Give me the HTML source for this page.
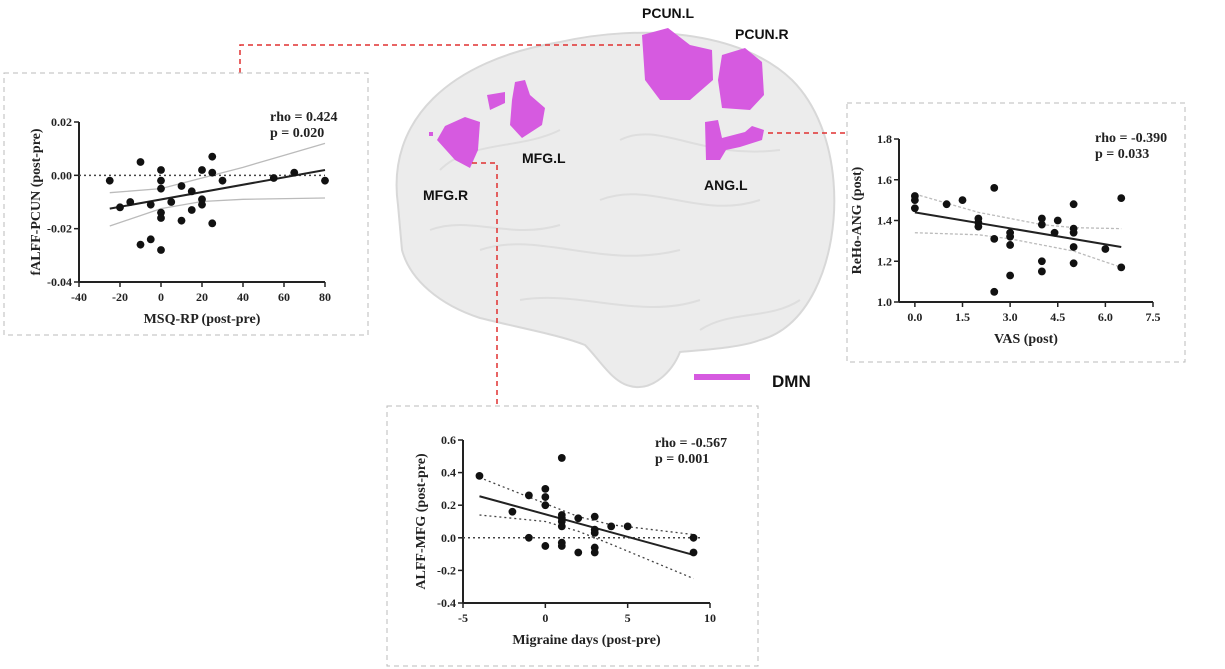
<!DOCTYPE html>
<html><head><meta charset="utf-8"><style>
html,body{margin:0;padding:0;background:#fff;}
svg{display:block;}
.t{font-family:"Liberation Serif",serif;font-weight:bold;font-size:12px;fill:#222;}
.a{font-family:"Liberation Serif",serif;font-weight:bold;font-size:14px;fill:#222;}
.l{font-family:"Liberation Sans",sans-serif;font-weight:bold;font-size:14px;fill:#111;}
</style></head><body>
<svg id="s" width="1225" height="669" viewBox="0 0 1225 669" xmlns="http://www.w3.org/2000/svg">
<!-- brain -->
<path d="M398,205 C386,120 450,60 560,42 C640,24 740,30 792,80 C842,130 845,230 815,290 C800,320 780,335 760,340 C740,348 700,350 680,352 C672,372 652,392 630,386 C612,382 600,360 585,345 C560,335 520,328 480,318 C440,305 410,280 402,250 Z" fill="#ececec" stroke="#d8d8d8" stroke-width="2"/>
<path d="M440,170 C470,140 520,150 560,130 M600,200 C650,180 700,220 760,200 M480,250 C540,230 600,270 680,250 M520,300 C580,290 640,320 700,300 M430,230 C470,215 510,240 560,225 M620,140 C660,120 700,160 780,150 M700,330 C730,310 770,320 800,300" stroke="#dedede" fill="none" stroke-width="2"/>
<g fill="#d65ae0">
<path d="M642,35 L668,28 L690,45 L712,50 L713,80 L690,100 L660,100 L645,80 Z"/>
<path d="M722,55 L745,48 L762,62 L764,95 L750,110 L722,108 L718,80 Z"/>
<path d="M705,122 L718,120 L722,138 L745,132 L752,126 L764,130 L762,140 L740,147 L726,150 L720,160 L706,160 Z"/>
<path d="M487,95 L505,92 L505,103 L490,110 Z"/>
<path d="M515,82 L525,80 L530,95 L545,108 L542,125 L522,138 L510,125 L512,100 Z"/>
<path d="M445,126 L465,117 L480,122 L478,150 L470,168 L455,160 L437,140 Z"/>
<rect x="429" y="132" width="4" height="4"/>
</g>
<text class="l" x="642" y="18">PCUN.L</text>
<text class="l" x="735" y="39">PCUN.R</text>
<text class="l" x="522" y="163">MFG.L</text>
<text class="l" x="423" y="200">MFG.R</text>
<text class="l" x="704" y="190">ANG.L</text>
<rect x="694" y="374" width="56" height="6" fill="#d65ae0"/>
<text x="772" y="387" style="font-family:'Liberation Sans',sans-serif;font-weight:bold;font-size:17px;fill:#111">DMN</text>
<g stroke="#e03030" stroke-width="1.5" stroke-dasharray="5,4" fill="none">
<path d="M240,73 L240,45 L640,45"/>
<path d="M472,163 L497,163 L497,405"/>
<path d="M768,133 L847,133"/>
</g>
<g stroke="#bbb" stroke-width="1" stroke-dasharray="5,4" fill="none">
<rect x="4" y="73" width="364" height="262"/>
<rect x="847" y="103" width="338" height="259"/>
<rect x="387" y="406" width="371" height="260"/>
</g>
<g id="plots"></g>
</svg>
<script>
var NS="http://www.w3.org/2000/svg",G=document.getElementById("plots");
function el(t,a,txt){var e=document.createElementNS(NS,t);for(var k in a)e.setAttribute(k,a[k]);if(txt!==undefined)e.textContent=txt;G.appendChild(e);return e;}
function plot(o){
 var X=function(v){return o.x0+(v-o.xmin)/(o.xmax-o.xmin)*(o.x1-o.x0)},Y=function(v){return o.y1+(v-o.ymin)/(o.ymax-o.ymin)*(o.y0-o.y1)};
 el("line",{x1:o.x0,y1:o.y0,x2:o.x0,y2:o.y1,stroke:"#222","stroke-width":2});
 el("line",{x1:o.x0,y1:o.y1,x2:o.x1,y2:o.y1,stroke:"#222","stroke-width":2});
 o.yt.forEach(function(v){var y=Y(v);el("line",{x1:o.x0-5,y1:y,x2:o.x0,y2:y,stroke:"#222","stroke-width":1.5});el("text",{x:o.x0-7,y:y+4,"text-anchor":"end",class:"t"},o.yf(v));});
 o.xt.forEach(function(v){var x=X(v);el("line",{x1:x,y1:o.y1,x2:x,y2:o.y1+5,stroke:"#222","stroke-width":1.5});el("text",{x:x,y:o.y1+19,"text-anchor":"middle",class:"t"},o.xf(v));});
 if(o.zero)el("line",{x1:o.x0,y1:Y(0),x2:X(o.zero),y2:Y(0),stroke:"#444","stroke-width":1.5,"stroke-dasharray":"2,3"});
 o.ci.forEach(function(c){var d="M"+c.map(function(p){return X(p[0])+","+Y(p[1])}).join(" L");el("path",{d:d,fill:"none",stroke:o.cic,"stroke-width":1.3,"stroke-dasharray":o.cid});});
 el("line",{x1:X(o.fit[0][0]),y1:Y(o.fit[0][1]),x2:X(o.fit[1][0]),y2:Y(o.fit[1][1]),stroke:"#222","stroke-width":2});
 o.pts.forEach(function(p){el("circle",{cx:X(p[0]),cy:Y(p[1]),r:3.9,fill:"#111"});});
 el("text",{x:o.rx,y:o.ry,class:"a"},o.rho);el("text",{x:o.rx,y:o.ry+16,class:"a"},o.p);
 el("text",{x:(o.x0+o.x1)/2,y:o.y1+41,"text-anchor":"middle",class:"a"},o.xl);
 var yc=(o.y0+o.y1)/2;el("text",{x:o.ylx,y:yc,"text-anchor":"middle",class:"a",transform:"rotate(-90 "+o.ylx+" "+yc+")"},o.yl);
}
plot({x0:79,x1:325,y0:122,y1:282,xmin:-40,xmax:80,ymin:-0.04,ymax:0.02,
 yt:[0.02,0,-0.02,-0.04],yf:function(v){return v.toFixed(2)},xt:[-40,-20,0,20,40,60,80],xf:String,zero:80,
 ci:[[[-25,-0.0065],[0,-0.005],[20,-0.001],[40,0.003],[60,0.0075],[80,0.012]],[[-25,-0.019],[0,-0.0125],[20,-0.0098],[40,-0.009],[80,-0.0085]]],cic:"#bbb",cid:"",
 fit:[[-25,-0.0125],[80,0.002]],
 pts:[[-25,-0.002],[-20,-0.012],[-15,-0.010],[-10,0.005],[-10,-0.026],[-5,-0.011],[-5,-0.024],[0,0.002],[0,-0.002],[0,-0.005],[0,-0.014],[0,-0.016],[0,-0.028],[5,-0.010],[10,-0.004],[10,-0.017],[15,-0.006],[15,-0.013],[20,0.002],[20,-0.009],[20,-0.011],[25,0.007],[25,0.001],[25,-0.018],[30,-0.002],[55,-0.001],[65,0.001],[80,-0.002]],
 rx:270,ry:121,rho:"rho = 0.424",p:"p = 0.020",xl:"MSQ-RP (post-pre)",yl:"fALFF-PCUN (post-pre)",ylx:40});
plot({x0:899,x1:1153,y0:139,y1:302,xmin:-0.5,xmax:7.5,ymin:1.0,ymax:1.8,
 yt:[1.8,1.6,1.4,1.2,1.0],yf:function(v){return v.toFixed(1)},xt:[0,1.5,3,4.5,6,7.5],xf:function(v){return v.toFixed(1)},zero:0,
 ci:[[[0,1.53],[2,1.44],[4,1.38],[5,1.365],[6.5,1.36]],[[0,1.34],[2,1.33],[3,1.31],[5,1.25],[6.5,1.17]]],cic:"#bbb",cid:"3,2",
 fit:[[0,1.44],[6.5,1.27]],
 pts:[[0,1.52],[0,1.50],[0,1.46],[1,1.48],[1.5,1.50],[2,1.41],[2,1.39],[2,1.37],[2.5,1.56],[2.5,1.31],[2.5,1.05],[3,1.34],[3,1.32],[3,1.28],[3,1.13],[4,1.41],[4,1.38],[4,1.20],[4,1.15],[4.4,1.34],[4.5,1.40],[5,1.48],[5,1.36],[5,1.34],[5,1.27],[5,1.19],[6,1.26],[6.5,1.51],[6.5,1.17]],
 rx:1095,ry:142,rho:"rho = -0.390",p:"p = 0.033",xl:"VAS (post)",yl:"ReHo-ANG (post)",ylx:861});
plot({x0:463,x1:710,y0:440,y1:603,xmin:-5,xmax:10,ymin:-0.4,ymax:0.6,
 yt:[0.6,0.4,0.2,0,-0.2,-0.4],yf:function(v){return v.toFixed(1)},xt:[-5,0,5,10],xf:String,zero:9.5,
 ci:[[[-4,0.37],[0,0.21],[2,0.13],[4,0.08],[9,0.02]],[[-4,0.14],[0,0.10],[2,0.04],[4,-0.04],[9,-0.25]]],cic:"#444",cid:"2,3",
 fit:[[-4,0.255],[9,-0.105]],
 pts:[[-4,0.38],[-2,0.16],[-1,0.26],[-1,0.0],[0,0.30],[0,0.25],[0,0.20],[0,-0.05],[1,0.49],[1,0.14],[1,0.12],[1,0.10],[1,0.07],[1,-0.03],[1,-0.05],[2,0.12],[2,-0.09],[3,0.13],[3,0.05],[3,0.03],[3,-0.06],[3,-0.09],[4,0.07],[5,0.07],[9,0.0],[9,-0.09]],
 rx:655,ry:447,rho:"rho = -0.567",p:"p = 0.001",xl:"Migraine days (post-pre)",yl:"ALFF-MFG (post-pre)",ylx:425});
</script>
</body></html>
